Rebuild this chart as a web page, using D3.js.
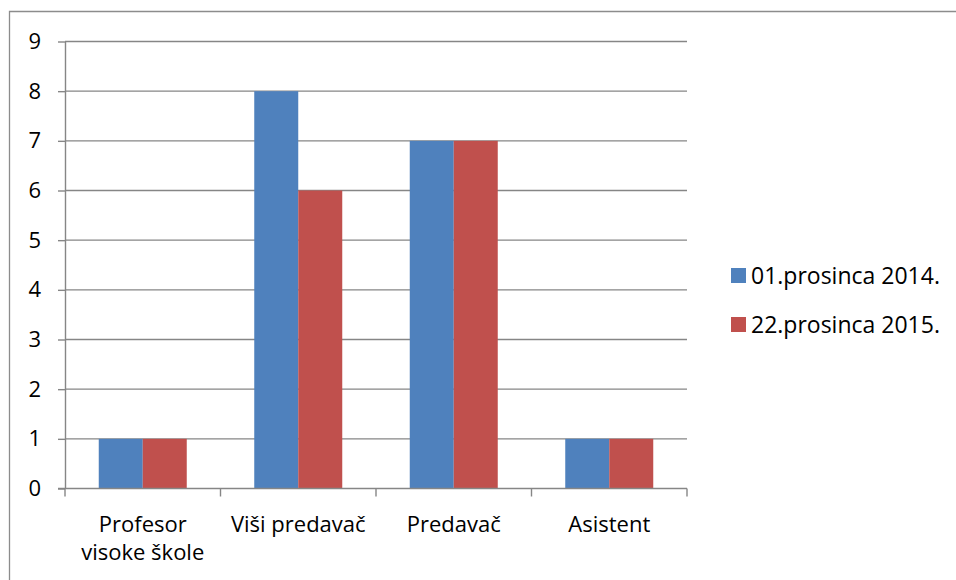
<!DOCTYPE html>
<html>
<head>
<meta charset="utf-8">
<script src="https://cdn.jsdelivr.net/npm/d3@7"></script>
<style>
  body { margin: 0; background: #fff; }
  svg text { font-family: "Open Sans", "Liberation Sans", sans-serif; fill: #000; }
</style>
</head>
<body>
<div id="chart"></div>
<script>
// data
const categories = ["Profesor visoke škole", "Viši predavač", "Predavač", "Asistent"];
const seriesNames = ["01.prosinca 2014.", "22.prosinca 2015."];
const values2014 = [1, 8, 7, 1];
const values2015 = [1, 6, 7, 1];
const yTicks = [0, 1, 2, 3, 4, 5, 6, 7, 8, 9];
const colors = ["#4F81BD", "#C0504D"];

const WIDTH = 956;
const HEIGHT = 580;
const PLOT = { left: 65, right: 687, top: 41.5, bottom: 488.5 };
const AXIS_COLOR = "#868686";
const FONT_SIZE = 22;

const svg = d3.select("#chart")
  .append("svg")
  .attr("width", WIDTH)
  .attr("height", HEIGHT);

// chart frame (only left and top edges fall inside the picture)
svg.append("path")
  .attr("d", `M9.5,${HEIGHT} V11.5 H${WIDTH}`)
  .attr("fill", "none")
  .attr("stroke", "#8c8c8c")
  .attr("stroke-width", 1.3);

const x = d3.scaleBand()
  .domain(categories)
  .range([PLOT.left, PLOT.right])
  .paddingInner(0)
  .paddingOuter(0);

const xSub = d3.scaleBand()
  .domain(seriesNames)
  .range([0, x.bandwidth()])
  .paddingInner(0)
  .paddingOuter(0.767);

const y = d3.scaleLinear()
  .domain([0, 9])
  .range([PLOT.bottom, PLOT.top]);

// gridlines
svg.append("g")
  .selectAll("line")
  .data(yTicks.filter(d => d > 0))
  .enter()
  .append("line")
  .attr("x1", PLOT.left)
  .attr("x2", PLOT.right)
  .attr("y1", d => y(d))
  .attr("y2", d => y(d))
  .attr("stroke", AXIS_COLOR)
  .attr("stroke-width", 1.4);

// bars
const table = categories.map((c, i) => ({ cat: c, vals: [values2014[i], values2015[i]] }));
const groups = svg.append("g")
  .selectAll("g")
  .data(table)
  .enter()
  .append("g")
  .attr("transform", d => `translate(${x(d.cat)},0)`);

groups.selectAll("rect")
  .data(d => d.vals.map((v, j) => ({ name: seriesNames[j], v: v, j: j })))
  .enter()
  .append("rect")
  .attr("x", d => xSub(d.name))
  .attr("width", xSub.bandwidth())
  .attr("y", d => y(d.v))
  .attr("height", d => y(0) - y(d.v))
  .attr("fill", d => colors[d.j]);

// y axis
const yAxis = svg.append("g")
  .attr("transform", `translate(${PLOT.left},0)`)
  .call(d3.axisLeft(y).tickValues(yTicks).tickSize(7).tickPadding(17).tickSizeOuter(0));
yAxis.select(".domain").attr("stroke", AXIS_COLOR).attr("stroke-width", 1.4);
yAxis.selectAll(".tick line").attr("stroke", AXIS_COLOR).attr("stroke-width", 1.4);
yAxis.selectAll(".tick text")
  .attr("font-size", FONT_SIZE)
  .attr("font-family", "'Open Sans', sans-serif")
  .attr("fill", "#000");

// x axis: tick marks at band boundaries
const xAxis = svg.append("g")
  .attr("transform", `translate(0,${PLOT.bottom})`);
xAxis.append("line")
  .attr("x1", PLOT.left - 7)
  .attr("x2", PLOT.right)
  .attr("stroke", AXIS_COLOR)
  .attr("stroke-width", 1.4);
const bounds = categories.map(c => x(c)).concat([x.range()[1]]);
xAxis.selectAll("line.tick")
  .data(bounds)
  .enter()
  .append("line")
  .attr("class", "tick")
  .attr("x1", d => d)
  .attr("x2", d => d)
  .attr("y1", 0)
  .attr("y2", 8)
  .attr("stroke", AXIS_COLOR)
  .attr("stroke-width", 1.4);

// category labels, long one wrapped on two lines
const labelLines = [["Profesor", "visoke škole"], ["Viši predavač"], ["Predavač"], ["Asistent"]];
const labels = svg.append("g")
  .selectAll("text")
  .data(categories)
  .enter()
  .append("text")
  .attr("text-anchor", "middle")
  .attr("font-size", FONT_SIZE)
  .attr("x", d => x(d) + x.bandwidth() / 2)
  .attr("y", 531.5);
labels.each(function (d, i) {
  d3.select(this).selectAll("tspan")
    .data(labelLines[i])
    .enter()
    .append("tspan")
    .attr("x", x(d) + x.bandwidth() / 2)
    .attr("dy", (t, k) => k === 0 ? 0 : 28)
    .text(t => t);
});

// legend
const legend = svg.append("g")
  .selectAll("g")
  .data(seriesNames)
  .enter()
  .append("g")
  .attr("transform", (d, i) => `translate(731,${268 + i * 49})`);
legend.append("rect")
  .attr("width", 15)
  .attr("height", 15)
  .attr("fill", (d, i) => colors[i]);
legend.append("text")
  .attr("x", 20)
  .attr("y", 15.5)
  .attr("font-size", 23)
  .text(d => d);
</script>
</body>
</html>
